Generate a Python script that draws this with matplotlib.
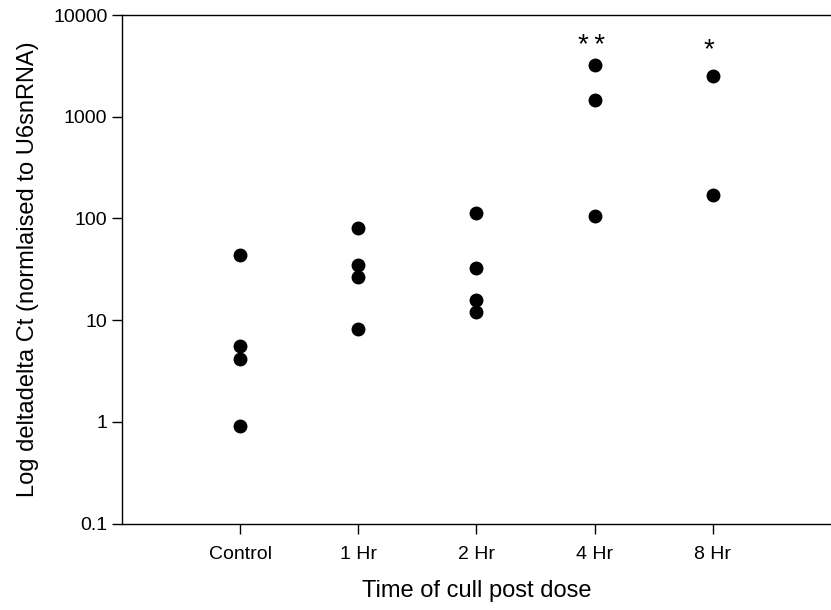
import numpy as np
import matplotlib
matplotlib.use("Agg")
import matplotlib.pyplot as plt
from matplotlib.ticker import FixedLocator, FixedFormatter, NullLocator

plt.rcParams['font.family'] = ['Liberation Sans', 'DejaVu Sans']

# Fold change per animal, grouped by cull time
groups = ['Control', '1 Hr', '2 Hr', '4 Hr', '8 Hr']
control = [43.4, 5.6, 4.14, 0.92]
hr1 = [81, 34.8, 26.4, 8.2]
hr2 = [112, 32.3, 15.8, 12.1]
hr4 = [3220, 1460, 106]
hr8 = [2530, 170]
values = [control, hr1, hr2, hr4, hr8]

# significance markers above groups
sig_labels = {'4 Hr': '*\u2009*', '8 Hr': '*'}
sig_heights = {'4 Hr': 5000, '8 Hr': 4500}

yticks = [0.1, 1, 10, 100, 1000, 10000]
ytick_labels = ['0.1', '1', '10', '100', '1000', '10000']

fig = plt.figure(figsize=(8.31, 6.10), dpi=100)
ax = fig.add_axes([0.1468, 0.1415, 0.8532, 0.8339])

for i, vals in enumerate(values):
    xs = np.full(len(vals), i + 1)
    ax.plot(xs, vals, 'o', color='black', markersize=9, linestyle='none')

for name, lab in sig_labels.items():
    xi = groups.index(name) + 1
    ax.text(xi - 0.03, sig_heights[name], lab, ha='center', va='center', fontsize=20)

ax.set_yscale('log')
ax.set_ylim(0.1, 10000)
ax.set_xlim(0, 6)
ax.yaxis.set_major_locator(FixedLocator(yticks))
ax.yaxis.set_major_formatter(FixedFormatter(ytick_labels))
ax.yaxis.set_minor_locator(NullLocator())
ax.set_xticks(range(1, len(groups) + 1))
ax.set_xticklabels(groups)

ax.tick_params(axis='both', direction='out', length=7, width=1, labelsize=14)
ax.tick_params(axis='x', pad=9)
for side in ['left', 'bottom', 'top']:
    ax.spines[side].set_linewidth(1)
ax.spines['right'].set_visible(False)

ax.set_xlabel('Time of cull post dose', fontsize=17, labelpad=12)
ax.set_ylabel('Log deltadelta Ct (normlaised to U6snRNA)', fontsize=17, labelpad=10)

fig.savefig('out.png', dpi=100)
